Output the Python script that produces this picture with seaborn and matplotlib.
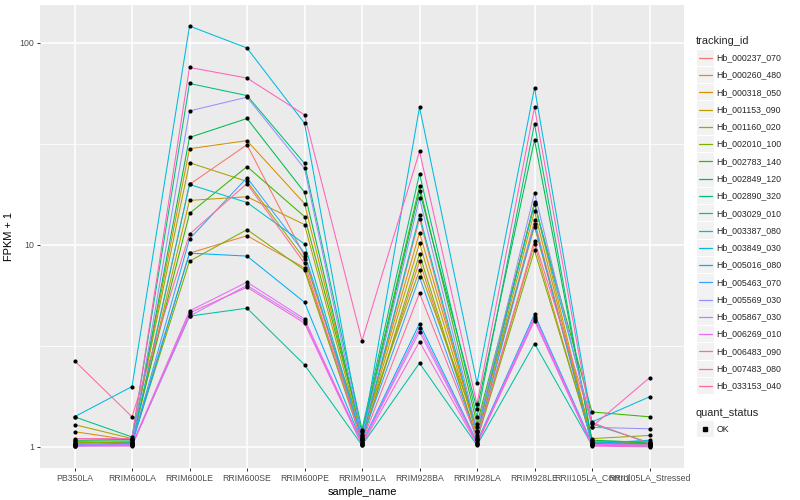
import numpy as np
import pandas as pd
import matplotlib
matplotlib.use("Agg")
import matplotlib.pyplot as plt
import seaborn as sns
from matplotlib.lines import Line2D
from matplotlib.patches import Rectangle

# samples on the x axis
samples = ["PB350LA", "RRIM600LA", "RRIM600LE", "RRIM600SE", "RRIM600PE", "RRIM901LA",
           "RRIM928BA", "RRIM928LA", "RRIM928LE", "RRII105LA_Control", "RRII105LA_Stressed"]

genes = ["Hb_000237_070", "Hb_000260_480", "Hb_000318_050", "Hb_001153_090", "Hb_001160_020",
         "Hb_002010_100", "Hb_002783_140", "Hb_002849_120", "Hb_002890_320", "Hb_003029_010",
         "Hb_003387_080", "Hb_003849_030", "Hb_005016_080", "Hb_005463_070", "Hb_005569_030",
         "Hb_005867_030", "Hb_006269_010", "Hb_006483_090", "Hb_007483_080", "Hb_033153_040"]

# FPKM + 1, one list per gene, in sample order
hb_000237_070 = [1.02, 1.03, 19.9, 31.3, 8.8, 1.08, 13.5, 1.12, 13.2, 1.03, 1.02]
hb_000260_480 = [1.04, 1.06, 9.1, 11.1, 7.7, 1.10, 8.3, 1.10, 10.1, 1.05, 1.04]
hb_000318_050 = [1.19, 1.08, 29.9, 32.8, 16.0, 1.15, 11.5, 1.20, 16.3, 1.06, 1.05]
hb_001153_090 = [1.06, 1.04, 16.6, 17.3, 12.6, 1.12, 10.2, 1.15, 14.7, 1.04, 1.03]
hb_001160_020 = [1.29, 1.10, 25.5, 20.6, 8.5, 1.20, 7.5, 1.25, 12.3, 1.10, 1.14]
hb_002010_100 = [1.05, 1.05, 8.3, 11.9, 7.5, 1.06, 9.0, 1.08, 9.4, 1.07, 1.06]
hb_002783_140 = [1.08, 1.09, 14.3, 24.4, 13.8, 1.18, 19.5, 1.30, 15.9, 1.49, 1.41]
hb_002849_120 = [1.07, 1.07, 34.0, 42.2, 18.2, 1.14, 18.5, 1.54, 33.1, 1.08, 1.05]
hb_002890_320 = [1.41, 1.12, 62.9, 54.8, 25.3, 1.22, 22.5, 1.40, 39.7, 1.05, 1.04]
hb_003029_010 = [1.03, 1.02, 4.44, 4.86, 2.55, 1.02, 2.6, 1.02, 3.25, 1.02, 1.01]
hb_003387_080 = [1.01, 1.05, 19.9, 16.2, 10.1, 1.10, 14.0, 1.18, 16.0, 1.30, 1.05]
hb_003849_030 = [1.41, 1.99, 121.0, 94.2, 40.0, 1.10, 48.0, 2.07, 59.9, 1.33, 1.77]
hb_005016_080 = [1.02, 1.03, 9.1, 8.8, 5.2, 1.05, 4.08, 1.06, 4.54, 1.04, 1.08]
hb_005463_070 = [1.03, 1.04, 10.7, 21.5, 9.1, 1.10, 6.92, 1.10, 12.7, 1.03, 1.02]
hb_005569_030 = [1.02, 1.03, 46.0, 53.8, 23.9, 1.12, 17.0, 1.20, 18.1, 1.25, 1.23]
hb_005867_030 = [1.01, 1.02, 4.44, 6.3, 4.2, 1.03, 3.72, 1.04, 4.3, 1.02, 1.01]
hb_006269_010 = [1.02, 1.02, 4.71, 6.54, 4.3, 1.04, 3.88, 1.05, 4.42, 1.03, 1.02]
hb_006483_090 = [1.01, 1.01, 4.6, 6.17, 4.1, 1.02, 3.32, 1.03, 4.22, 1.01, 1.00]
hb_007483_080 = [1.10, 1.10, 75.5, 66.9, 44.0, 3.35, 29.0, 1.63, 48.0, 1.26, 2.20]
hb_033153_040 = [2.67, 1.41, 11.3, 20.1, 8.1, 1.06, 5.77, 1.10, 10.5, 1.32, 1.04]

values = [hb_000237_070, hb_000260_480, hb_000318_050, hb_001153_090, hb_001160_020,
          hb_002010_100, hb_002783_140, hb_002849_120, hb_002890_320, hb_003029_010,
          hb_003387_080, hb_003849_030, hb_005016_080, hb_005463_070, hb_005569_030,
          hb_005867_030, hb_006269_010, hb_006483_090, hb_007483_080, hb_033153_040]


def hue_pal(n, l=65, c=100):
    # ggplot2 default hue palette (polar Luv -> sRGB)
    h = np.linspace(15, 375, n + 1)[:-1]
    Xn, Yn, Zn = 95.047, 100.0, 108.883
    un = 4 * Xn / (Xn + 15 * Yn + 3 * Zn)
    vn = 9 * Yn / (Xn + 15 * Yn + 3 * Zn)
    out = []
    for hh in h:
        u = c * np.cos(np.radians(hh))
        v = c * np.sin(np.radians(hh))
        Y = Yn * ((l + 16) / 116) ** 3
        up = u / (13 * l) + un
        vp = v / (13 * l) + vn
        X = 9 * Y * up / (4 * vp)
        Z = Y * (12 - 3 * up - 20 * vp) / (4 * vp)
        xyz = np.array([X, Y, Z]) / 100
        m = np.array([[3.2404542, -1.5371385, -0.4985314],
                      [-0.9692660, 1.8760108, 0.0415560],
                      [0.0556434, -0.2040259, 1.0572252]])
        rgb = m @ xyz
        rgb = np.where(rgb <= 0.0031308, 12.92 * rgb, 1.055 * np.abs(rgb) ** (1 / 2.4) - 0.055)
        out.append(tuple(np.clip(rgb, 0, 1)))
    return out


pal = hue_pal(len(genes))

rows = []
for g, vals in zip(genes, values):
    for s, v in zip(samples, vals):
        rows.append({"tracking_id": g, "sample_name": s, "fpkm": v, "quant_status": "OK"})
df = pd.DataFrame(rows)

sns.set_theme(style="darkgrid")
plt.rcParams["font.family"] = ["Liberation Sans", "DejaVu Sans"]

fig = plt.figure(figsize=(8, 5), dpi=100)
W, H = 800, 500
ax = fig.add_axes([40 / W, 1 - 468 / H, (684 - 40) / W, (468 - 5) / H])
ax.set_facecolor("#EBEBEB")

sns.lineplot(data=df, x="sample_name", y="fpkm", hue="tracking_id", hue_order=genes,
             palette=pal, estimator=None, sort=False, lw=0.75, legend=False, ax=ax)
sns.scatterplot(data=df, x="sample_name", y="fpkm", color="black", s=9, marker="o",
                linewidth=0, legend=False, ax=ax, zorder=5)

ax.set_yscale("log")
lo, hi = np.log10(df["fpkm"].min()), np.log10(df["fpkm"].max())
pad = (hi - lo) * 0.05
ax.set_ylim(10 ** (lo - pad), 10 ** (hi + pad))
ax.set_xlim(-0.6, len(samples) - 0.4)
ax.set_yticks([1, 10, 100])
ax.set_yticklabels(["1", "10", "100"])
ax.set_yticks([10 ** 0.5, 10 ** 1.5], minor=True)
ax.yaxis.set_minor_formatter(matplotlib.ticker.NullFormatter())

ax.grid(True, which="major", color="white", lw=1.1)
ax.grid(True, which="minor", axis="y", color="white", lw=0.55)
ax.tick_params(axis="both", which="major", length=2.5, width=0.7, color="#333333",
               labelsize=6.3, labelcolor="#4D4D4D", pad=1.5, direction="out",
               bottom=True, left=True)
ax.tick_params(axis="y", which="minor", length=0)
for sp in ax.spines.values():
    sp.set_visible(False)
ax.set_xlabel("sample_name", fontsize=7.9, color="black", labelpad=3)
ax.set_ylabel("FPKM + 1", fontsize=7.9, color="black", labelpad=4)


def fx(px):
    return px / W


def fy(py):
    return 1 - py / H


# legend: tracking_id
fig.text(fx(696), fy(41), "tracking_id", fontsize=7.9, va="center", ha="left")
step = 17.28
for i, (g, col) in enumerate(zip(genes, pal)):
    yc = 57.7 + i * step
    fig.add_artist(Rectangle((fx(697), fy(yc + 8.2)), 16.5 / W, 16.4 / H,
                             transform=fig.transFigure, facecolor="#F2F2F2", edgecolor="none"))
    fig.add_artist(Line2D([fx(699), fx(711.5)], [fy(yc), fy(yc)], transform=fig.transFigure,
                          color=col, lw=0.9))
    fig.text(fx(716.5), fy(yc), g, fontsize=6.3, va="center", ha="left")

# legend: quant_status
fig.text(fx(696), fy(412.5), "quant_status", fontsize=7.9, va="center", ha="left")
fig.add_artist(Rectangle((fx(697), fy(429 + 8.2)), 16.5 / W, 16.4 / H,
                         transform=fig.transFigure, facecolor="#F2F2F2", edgecolor="none"))
fig.add_artist(Line2D([fx(705)], [fy(429)], transform=fig.transFigure, marker="s",
                      markersize=2.6, color="black", lw=0))
fig.text(fx(716.5), fy(429), "OK", fontsize=6.3, va="center", ha="left")

fig.savefig("out.png", dpi=100, facecolor="white")
